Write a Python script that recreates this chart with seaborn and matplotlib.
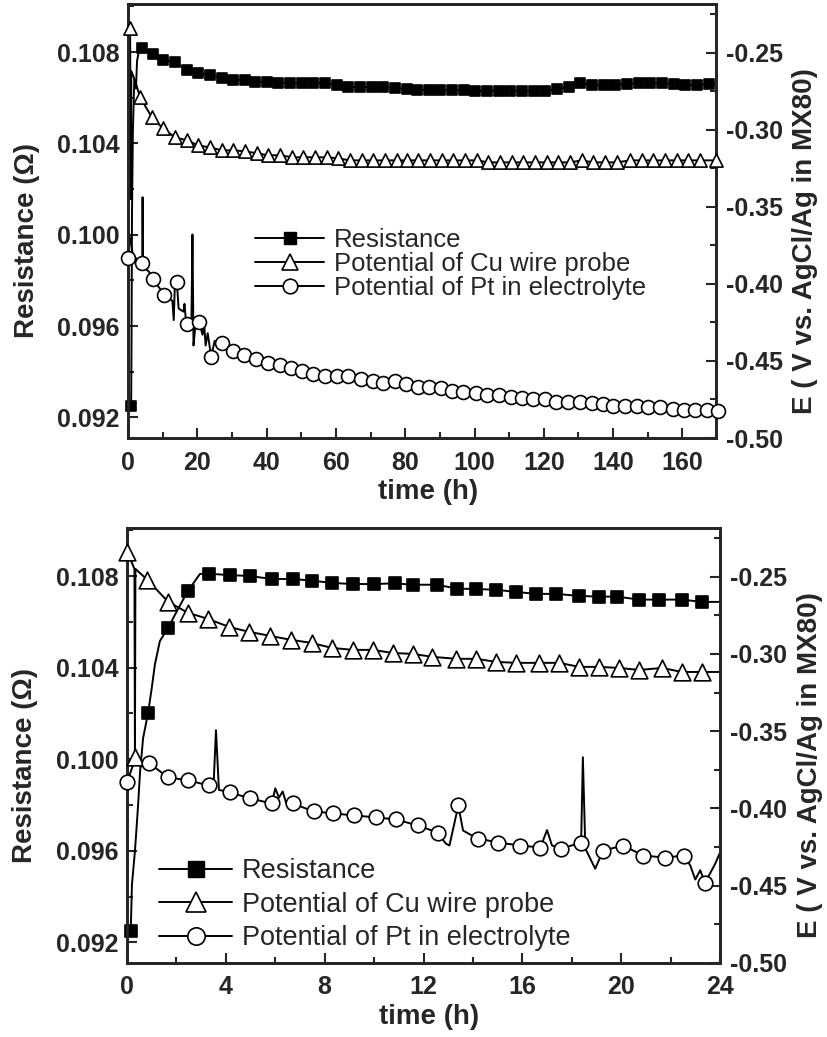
import numpy as np
import pandas as pd
import matplotlib
matplotlib.use("Agg")
import matplotlib.pyplot as plt
import seaborn as sns
from matplotlib.lines import Line2D
from matplotlib.ticker import MultipleLocator, FormatStrFormatter

# ---------------- top panel: 0-170 h ----------------
# resistance (left axis), marked points
t_top_res = [0.9, 4.0, 7.2, 10.1, 13.6, 17.0, 20.2, 23.7, 27.1, 30.3, 33.8, 36.7, 40.1,
             43.3, 46.8, 50.2, 53.4, 56.9, 60.3, 63.5, 67.0, 70.4, 73.6, 77.1, 80.5,
             83.4, 86.9, 90.0, 93.5, 97.0, 100.1, 103.6, 107.1, 110.2, 113.7, 117.2,
             120.3, 123.8, 127.3, 130.4, 133.9, 137.4, 140.5, 144.0, 147.5, 150.6,
             154.1, 157.6, 160.7, 164.2, 167.7]
r_top_res = [0.0925, 0.10817, 0.10791, 0.10765, 0.10756, 0.10721, 0.10708, 0.10699,
             0.10686, 0.10678, 0.10678, 0.10669, 0.10669, 0.10664, 0.10664, 0.10664,
             0.10664, 0.10664, 0.10656, 0.10647, 0.10647, 0.10647, 0.10647, 0.10643,
             0.10638, 0.10634, 0.10634, 0.10634, 0.10632, 0.10632, 0.10630, 0.10630,
             0.10630, 0.10630, 0.10630, 0.10630, 0.10628, 0.10638, 0.10647, 0.10664,
             0.10656, 0.10656, 0.10656, 0.10660, 0.10664, 0.10664, 0.10664, 0.10660,
             0.10656, 0.10656, 0.10660]
# unmarked points of the raw trace
t_top_res_raw = [1.0, 1.15, 1.4, 1.8, 2.3, 2.6, 3.2, 169.7]
r_top_res_raw = [0.0950, 0.1010, 0.1045, 0.1068, 0.1064, 0.1076, 0.1081, 0.10660]

# Cu wire probe potential (right axis)
t_top_cu = [0.6, 3.5, 6.9, 10.1, 13.6, 17.0, 20.2, 23.7, 27.1, 30.3, 33.8, 37.2, 40.4,
            43.9, 47.3, 50.5, 54.0, 57.4, 60.6, 64.1, 67.5, 70.7, 74.2, 77.6, 80.5,
            83.7, 87.2, 90.6, 93.8, 97.3, 100.7, 103.9, 107.4, 110.8, 114.0, 117.5,
            120.9, 124.1, 127.6, 131.0, 134.2, 137.7, 141.1, 144.9, 148.3, 151.5,
            154.9, 158.4, 161.6, 165.0, 169.7]
e_top_cu = [-0.2338, -0.2791, -0.2920, -0.2992, -0.3050, -0.3069, -0.3102, -0.3115,
            -0.3134, -0.3134, -0.3140, -0.3153, -0.3166, -0.3166, -0.3179, -0.3179,
            -0.3179, -0.3179, -0.3186, -0.3199, -0.3199, -0.3199, -0.3199, -0.3199,
            -0.3199, -0.3199, -0.3199, -0.3199, -0.3199, -0.3199, -0.3199, -0.3212,
            -0.3212, -0.3212, -0.3212, -0.3212, -0.3212, -0.3212, -0.3212, -0.3199,
            -0.3212, -0.3212, -0.3212, -0.3199, -0.3199, -0.3199, -0.3199, -0.3199,
            -0.3199, -0.3199, -0.3199]
t_top_cu_raw = [0.8, 0.95, 2.0]
e_top_cu_raw = [-0.345, -0.262, -0.268]

# Pt in electrolyte potential (right axis)
t_top_pt = [0, 4.0, 7.2, 10.4, 14.1, 17.0, 20.5, 24.0, 27.1, 30.3, 33.5, 36.9, 40.4,
            43.9, 47.0, 50.2, 53.4, 56.9, 60.3, 63.5, 67.2, 70.7, 73.6, 77.1, 80.2,
            83.7, 86.9, 90.3, 93.5, 96.6, 100.4, 103.6, 107.0, 110.5, 113.7, 116.9,
            120.3, 123.5, 126.9, 130.4, 133.9, 137.1, 139.9, 143.4, 146.9, 150.0,
            153.5, 157.3, 160.5, 163.6, 167.1, 170.3]
e_top_pt = [-0.3833, -0.3865, -0.3968, -0.4072, -0.3988, -0.4260, -0.4247, -0.4473,
            -0.4382, -0.4434, -0.4460, -0.4486, -0.4512, -0.4525, -0.4544, -0.4564,
            -0.4583, -0.4596, -0.4596, -0.4596, -0.4616, -0.4628, -0.4641, -0.4628,
            -0.4648, -0.4667, -0.4667, -0.4674, -0.4693, -0.4699, -0.4706, -0.4719,
            -0.4719, -0.4732, -0.4738, -0.4745, -0.4745, -0.4764, -0.4764, -0.4764,
            -0.4771, -0.4777, -0.4790, -0.4790, -0.4790, -0.4796, -0.4796, -0.4809,
            -0.4816, -0.4816, -0.4816, -0.4822]
t_top_pt_raw = [0.35, 1.5, 4.1, 4.2, 4.35, 6.0, 8.5, 9.5, 12.8, 13.2, 13.5, 14.6, 16.0,
                16.3, 16.6, 18.3, 18.6, 18.9, 19.4, 21.5, 22.0, 22.4, 23.0, 25.0]
e_top_pt_raw = [-0.368, -0.382, -0.387, -0.3438, -0.389, -0.392, -0.401, -0.404,
                -0.411, -0.4235, -0.402, -0.416, -0.418, -0.413, -0.421, -0.424,
                -0.368, -0.440, -0.428, -0.433, -0.427, -0.440, -0.432, -0.437]

# ---------------- bottom panel: 0-24 h ----------------
t_bot_res = [0.15, 0.85, 1.66, 2.46, 3.3, 4.16, 4.97, 5.86, 6.7, 7.47, 8.28, 9.13, 10.0,
             10.83, 11.56, 12.53, 13.37, 14.14, 14.95, 15.76, 16.57, 17.37, 18.3, 19.1,
             19.84, 20.73, 21.54, 22.46, 23.27]
r_bot_res = [0.0925, 0.1020, 0.10573, 0.10734, 0.1081, 0.10804, 0.1080, 0.10787, 0.10787,
             0.1078, 0.1077, 0.10765, 0.10765, 0.10768, 0.10762, 0.10762, 0.10745,
             0.10743, 0.1074, 0.1073, 0.10722, 0.10722, 0.10713, 0.1071, 0.1071,
             0.10697, 0.10697, 0.10697, 0.10687]
t_bot_res_raw = [0.2, 0.32, 0.44, 0.53, 0.65, 1.0, 1.13, 1.33, 2.02, 2.95, 24.0]
r_bot_res_raw = [0.09454, 0.09598, 0.09786, 0.09948, 0.10092, 0.1031, 0.10415, 0.10516,
                 0.10647, 0.10809, 0.10687]

t_bot_cu = [0, 0.32, 0.81, 1.66, 2.46, 3.27, 4.12, 4.93, 5.78, 6.63, 7.47, 8.28, 9.13,
            9.94, 10.75, 11.56, 12.36, 13.33, 14.14, 14.95, 15.76, 16.69, 17.49, 18.3,
            19.11, 19.92, 20.73, 21.66, 22.46, 23.27]
e_bot_cu = [-0.2338, -0.3669, -0.2519, -0.2662, -0.2734, -0.2773, -0.2825, -0.2857,
            -0.2883, -0.2909, -0.2929, -0.2961, -0.2974, -0.2974, -0.2994, -0.3000,
            -0.3019, -0.3032, -0.3032, -0.3052, -0.3058, -0.3058, -0.3058, -0.3084,
            -0.3084, -0.3091, -0.3104, -0.3091, -0.3117, -0.3117]
t_bot_cu_raw = [0.3, 0.34, 24.0]
e_bot_cu_raw = [-0.245, -0.245, -0.3117]

t_bot_pt = [0, 0.9, 1.66, 2.46, 3.3, 4.16, 4.97, 5.86, 6.7, 7.55, 8.32, 9.17, 10.06,
            10.87, 11.76, 12.57, 13.41, 14.22, 15.03, 15.92, 16.73, 17.58, 18.38, 19.27,
            20.08, 20.89, 21.78, 22.55, 23.39]
e_bot_pt = [-0.3831, -0.3708, -0.3799, -0.3818, -0.3851, -0.3896, -0.3935, -0.3968,
            -0.3968, -0.4019, -0.4032, -0.4045, -0.4058, -0.4071, -0.4110, -0.4156,
            -0.3981, -0.4195, -0.4221, -0.4240, -0.4253, -0.4260, -0.4221, -0.4273,
            -0.4240, -0.4305, -0.4318, -0.4305, -0.4481]
t_bot_pt_raw = [0.35, 0.55, 3.5, 3.6, 3.72, 6.0, 6.15, 6.3, 6.45, 12.9, 13.05, 13.6,
                13.9, 17.0, 17.2, 18.45, 18.55, 18.95, 22.8, 23.0, 23.2, 23.6, 23.8, 24.0]
e_bot_pt_raw = [-0.367, -0.373, -0.386, -0.3494, -0.388, -0.3870, -0.393, -0.389,
                -0.397, -0.4227, -0.4240, -0.4143, -0.417, -0.414, -0.424, -0.3669,
                -0.426, -0.439, -0.437, -0.446, -0.440, -0.442, -0.436, -0.4286]

labels = ['Resistance', 'Potential of Cu wire probe', 'Potential of Pt in electrolyte']

sns.set_style('ticks')
plt.rcParams['font.family'] = ['Liberation Sans', 'DejaVu Sans']
plt.rcParams['axes.unicode_minus'] = False


def trace(tm, vm, tr, vr):
    d = pd.DataFrame({'t': list(tm) + list(tr), 'v': list(vm) + list(vr)})
    return d.sort_values('t', kind='mergesort')


def draw(ax, tm, vm, tr, vr, marker, fill, ms):
    sns.lineplot(data=trace(tm, vm, tr, vr), x='t', y='v', ax=ax, color='black',
                 lw=1.4, estimator=None, sort=False, legend=False)
    sns.scatterplot(x=tm, y=vm, ax=ax, marker=marker, s=ms ** 2, color=fill,
                    edgecolor='black', linewidth=1.2, zorder=3, clip_on=False,
                    legend=False)


def panel(rect, series, xmax, xmaj, xmin, sizes, leg_anchor, leg_sp, leg_size, leg_ms):
    ax = fig.add_axes(rect)
    ax2 = ax.twinx()
    (tr, rr, trr, rrr), (tc, ec, tcr, ecr), (tp, ep, tpr, epr) = series
    draw(ax, tr, rr, trr, rrr, 's', 'black', sizes[0])
    draw(ax2, tc, ec, tcr, ecr, '^', 'white', sizes[1])
    draw(ax2, tp, ep, tpr, epr, 'o', 'white', sizes[2])

    ax.set_xlim(0, xmax)
    ax.set_ylim(0.0911, 0.1101)
    ax2.set_ylim(-0.50, -0.2185)
    ax.xaxis.set_major_locator(MultipleLocator(xmaj))
    ax.xaxis.set_minor_locator(MultipleLocator(xmin))
    ax.yaxis.set_major_locator(MultipleLocator(0.004))
    ax.yaxis.set_minor_locator(MultipleLocator(0.002))
    ax.yaxis.set_major_formatter(FormatStrFormatter('%.3f'))
    ax2.yaxis.set_major_locator(MultipleLocator(0.05))
    ax2.yaxis.set_minor_locator(MultipleLocator(0.025))
    ax2.yaxis.set_major_formatter(FormatStrFormatter('%.2f'))

    for a in (ax, ax2):
        for s in a.spines.values():
            s.set_linewidth(2)
        a.tick_params(which='major', direction='in', length=7, width=1.5,
                      labelsize=18)
        a.tick_params(which='minor', direction='in', length=4, width=1.5)
        for lab in a.get_xticklabels() + a.get_yticklabels():
            lab.set_fontweight('bold')
    ax.tick_params(axis='x', pad=9)
    ax.tick_params(axis='y', pad=6)
    ax2.tick_params(axis='y', pad=7)
    ax.tick_params(axis='y', which='both', right=False)

    lab_font = dict(fontsize=20, fontweight='bold')
    ax.set_xlabel('time (h)', **lab_font)
    ax.set_ylabel('Resistance (\u03a9)', **lab_font)
    ax2.set_ylabel('E ( V vs. AgCl/Ag in MX80)', **lab_font)
    ax.xaxis.set_label_coords(0.51, -0.125)
    ax.yaxis.set_label_coords(-0.172, 0.455)
    ax2.yaxis.set_label_coords(1.152, 0.455)
    for t in (ax.xaxis.label, ax.yaxis.label, ax2.yaxis.label):
        t.set_verticalalignment('center')
        t.set_horizontalalignment('center')
    ax2.yaxis.label.set_rotation(90)

    handles = [
        Line2D([0], [0], color='black', lw=1.4, marker='s', ms=leg_ms[0],
               mfc='black', mec='black'),
        Line2D([0], [0], color='black', lw=1.4, marker='^', ms=leg_ms[1],
               mfc='white', mec='black', mew=1.2),
        Line2D([0], [0], color='black', lw=1.4, marker='o', ms=leg_ms[2],
               mfc='white', mec='black', mew=1.2),
    ]
    ax2.legend(handles, labels, loc='center left', bbox_to_anchor=leg_anchor,
               frameon=False, borderpad=0, borderaxespad=0, handlelength=2.7,
               handletextpad=0.37, labelspacing=leg_sp, numpoints=1,
               prop={'family': ['Liberation Sans', 'DejaVu Sans'], 'size': leg_size})
    return ax, ax2


fig = plt.figure(figsize=(8.27, 10.37), dpi=100)

panel([0.1548, 0.5776, 0.7110, 0.4185],
      [(t_top_res, r_top_res, t_top_res_raw, r_top_res_raw),
       (t_top_cu, e_top_cu, t_top_cu_raw, e_top_cu_raw),
       (t_top_pt, e_top_pt, t_top_pt_raw, e_top_pt_raw)],
      169.7, 20, 10, (7, 9.5, 10), (0.216, 0.40), 0.0, 18.5, (8, 11, 10.5))

panel([0.1536, 0.0714, 0.7170, 0.4195],
      [(t_bot_res, r_bot_res, t_bot_res_raw, r_bot_res_raw),
       (t_bot_cu, e_bot_cu, t_bot_cu_raw, e_bot_cu_raw),
       (t_bot_pt, e_bot_pt, t_bot_pt_raw, e_bot_pt_raw)],
      24, 4, 2, (9, 12, 10.5), (0.054, 0.134), 0.28, 19.5, (11, 14, 12.5))

fig.savefig('out.png', dpi=100)
